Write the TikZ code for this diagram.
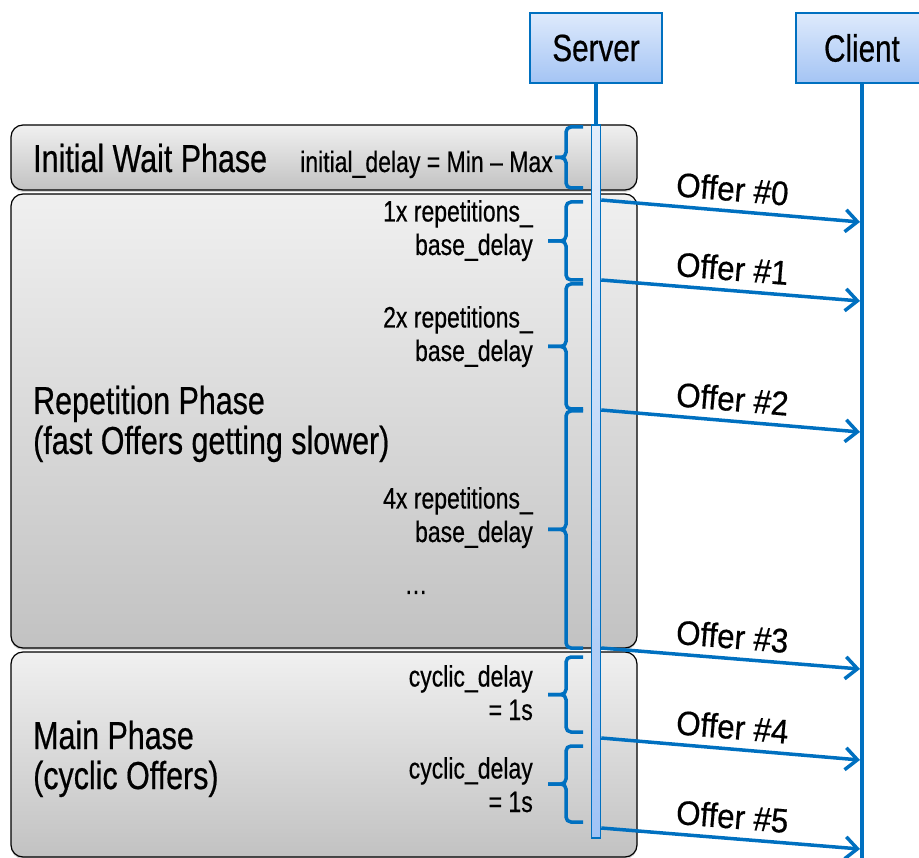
\documentclass[tikz,border=0pt]{standalone}
\usepackage{fontspec}
\setmainfont[FakeStretch=0.78,FakeBold=0.5]{Liberation Sans}
\newfontfamily\offerfont[FakeStretch=0.92,FakeBold=0.5]{Liberation Sans}
\usetikzlibrary{arrows.meta,calc,shadows}
\definecolor{seqblue}{RGB}{0,112,192}
\definecolor{headtop}{RGB}{222,234,252}
\definecolor{headbot}{RGB}{164,196,244}
\definecolor{bartop}{RGB}{226,237,251}
\definecolor{barbot}{RGB}{160,195,246}
\definecolor{phasetop}{RGB}{240,240,240}
\definecolor{phasebot}{RGB}{194,194,194}
\tikzset{
  lifehead/.style={
    draw=seqblue,
    line width=1.5pt,
    top color=headtop,
    bottom color=headbot,
    minimum width=132pt,
    minimum height=70pt,
    font=\fontsize{38}{40}\selectfont
  },
  lifeline/.style={
    draw=seqblue,
    line width=4pt
  },
  actbar/.style={
    draw=seqblue,
    line width=1.5pt,
    top color=bartop,
    bottom color=barbot,
    inner sep=0pt,
    minimum width=9pt,
    minimum height=713pt
  },
  phasebox/.style={
    draw=black,
    line width=1.2pt,
    rounded corners=12pt,
    top color=phasetop,
    bottom color=phasebot,
    drop shadow={shadow xshift=0pt, shadow yshift=-2pt, opacity=0.35}
  },
  phasetext/.style={
    anchor=base west,
    align=left,
    inner sep=0pt,
    font=\fontsize{39}{40}\selectfont
  },
  delaytext/.style={
    anchor=base east,
    align=right,
    inner sep=0pt,
    font=\fontsize{29.5}{33.5}\selectfont
  },
  bracestyle/.style={
    draw=seqblue,
    line width=3.5pt,
    rounded corners=5pt
  },
  offer/.style={
    draw=seqblue,
    line width=3.5pt,
    -{Straight Barb[length=12pt,width=22pt]}
  },
  offerlabel/.style={
    midway,
    above=6pt,
    sloped,
    inner sep=2pt,
    font=\offerfont\fontsize{34}{36}\selectfont
  }
}
% curly brace: top y, bottom y, x of middle tip
\newcommand{\delaybrace}[3]{%
  \draw[bracestyle] (583,#1) -- (566,#1) -- (566,{(#1+#2)/2}) -- (#3,{(#1+#2)/2});
  \draw[bracestyle] (583,#2) -- (566,#2) -- (566,{(#1+#2)/2}) -- (#3,{(#1+#2)/2});
}

\begin{document}
\begin{tikzpicture}[x=1pt,y=-1pt]
    \useasboundingbox (0,0) rectangle (919,858);

    % phases
    \draw[phasebox] (11,125) rectangle (637,190);
    \draw[phasebox] (11,194) rectangle (637,648);
    \draw[phasebox] (11,652) rectangle (637,857);

    % base of a two-line node is its last line
    \node[phasetext] (initial) at (33,172) {Initial Wait Phase};
    \node[phasetext] (repetition) at (33,454) {Repetition Phase\\(fast Offers getting slower)};
    \node[phasetext] (main) at (33,789) {Main Phase\\(cyclic Offers)};

    % delays
    \node[delaytext] (dinit) at (553,172) {initial\_delay = Min -- Max};
    \node[delaytext] (drep1) at (533,255) {1x repetitions\_\\base\_delay};
    \node[delaytext] (drep2) at (533,361) {2x repetitions\_\\base\_delay};
    \node[delaytext] (drep3) at (533,542) {4x repetitions\_\\base\_delay};
    \node[delaytext, anchor=base] (dots) at (416,594) {\dots};
    \node[delaytext] (dcyc1) at (533,720) {cyclic\_delay\\= 1s};
    \node[delaytext] (dcyc2) at (533,812) {cyclic\_delay\\= 1s};

    \delaybrace{127}{188}{555}
    \delaybrace{202}{280}{548}
    \delaybrace{284}{409}{548}
    \delaybrace{411}{648}{548}
    \delaybrace{657}{732}{548}
    \delaybrace{746}{822}{548}

    % lifelines
    \node[lifehead] (srv) at (596,48) {Server};
    \node[lifehead] (cli) at (862,48) {Client};
    \node[actbar] (bar) at (596,481.5) {};
    \coordinate (cliend) at (862,858);
    \draw[lifeline] (srv.south) -- (bar.north);
    \draw[lifeline] (cli.south) -- (cliend);

    % offers
    \foreach \i/\ys/\ye in {0/200/222,1/280/301,2/410/432,3/648/669,4/738/760,5/828/849} {
        \coordinate (s\i) at (bar.east |- 0,\ys);
        \coordinate (e\i) at ([xshift=-2pt]cli.south |- 0,\ye);
        \draw[offer] (s\i) -- node[offerlabel] (o\i) {Offer \#\i} (e\i);
    }
\end{tikzpicture}
\end{document}
